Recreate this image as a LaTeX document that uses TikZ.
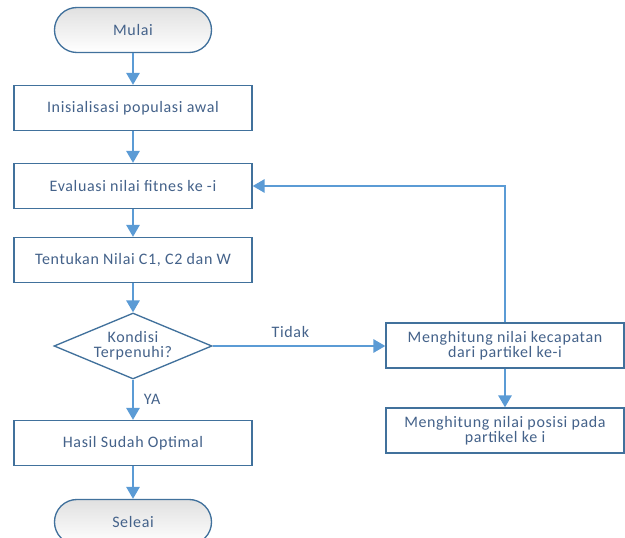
\documentclass[tikz,border=0pt]{standalone}
\usepackage{fontspec}
\setmainfont{Carlito}
\newfontfamily\chartfont[LetterSpace=4]{Carlito}
\usetikzlibrary{arrows.meta,shapes.geometric}

\definecolor{linkblue}{RGB}{91,155,213}
\definecolor{edgeblue}{RGB}{65,113,156}
\definecolor{textblue}{RGB}{68,98,138}

\tikzset{
    box/.style={draw=edgeblue, line width=1pt, fill=white, text=textblue,
        minimum width=178.5pt, minimum height=33.75pt, align=center,
        font=\chartfont\fontsize{12}{11.5}\selectfont},
    terminal/.style={box, minimum width=117.75pt, rounded corners=16.8pt,
        top color=black!12, bottom color=white},
    decision/.style={draw=edgeblue, line width=1pt, fill=white, text=textblue,
        diamond, shape aspect=2.39, inner sep=0pt, align=center,
        minimum width=118.5pt, minimum height=49.5pt,
        font=\chartfont\fontsize{12}{11.5}\selectfont},
    flow/.style={draw=linkblue, line width=1.5pt,
        -{Triangle[length=9pt,width=10pt]}},
    flowlabel/.style={text=textblue, font=\chartfont\fontsize{12}{13}\selectfont}
}

\begin{document}
\begin{tikzpicture}[x=0.75pt,y=-0.75pt]

    \useasboundingbox (0,0) rectangle (625,538);
    \clip (0,0) rectangle (625,538);

    %% Main column

    % Start
    \node[terminal] (mulai) at (133,30) {Mulai};

    % Process boxes
    \node[box] (init) at (133,108) {Inisialisasi populasi awal};
    \node[box] (evaluasi) at (133,186) {Evaluasi nilai fitnes ke -i};
    \node[box] (tentukan) at (133,260) {Tentukan Nilai C1, C2 dan W};

    % Condition
    \node[decision] (kondisi) at (133,346) {Kondisi\\Terpenuhi?};

    % Result and end
    \node[box] (hasil) at (133,443) {Hasil Sudah Optimal};
    \node[terminal] (seleai) at (133,522) {Seleai};

    %% Right column

    \node[box] (kecepatan) at (505,345.5) {Menghitung nilai kecapatan\\dari partikel ke-i};
    \node[box] (posisi) at (505,430.5) {Menghitung nilai posisi pada\\partikel ke i};

    %% Connectors

    \draw[flow] (mulai) -- (init);
    \draw[flow] (init) -- (evaluasi);
    \draw[flow] (evaluasi) -- (tentukan);
    \draw[flow] (tentukan) -- (kondisi);
    \draw[flow] (kondisi) -- (hasil) node[flowlabel,midway,right,xshift=4pt] {YA};
    \draw[flow] (hasil) -- (seleai);

    % Not fulfilled: go to the particle update
    \draw[flow] (kondisi.east) -- (kecepatan.west |- kondisi.east)
        node[flowlabel,pos=0.45,above,yshift=2pt] {Tidak};
    \draw[flow] (kecepatan) -- (posisi);

    % Loop back to evaluation
    \draw[flow] (kecepatan.north) |- (evaluasi.east);

\end{tikzpicture}
\end{document}
